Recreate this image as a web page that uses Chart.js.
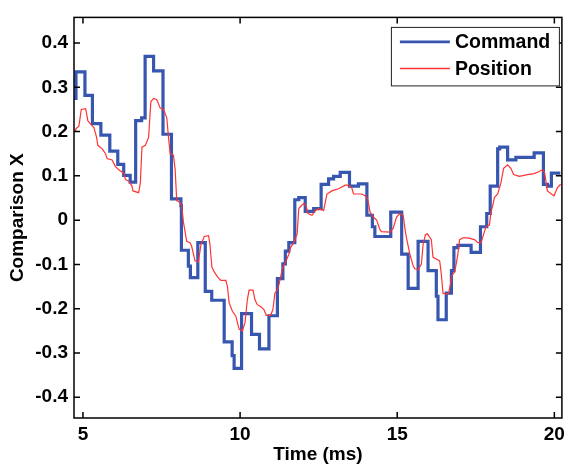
<!DOCTYPE html>
<html>
<head>
<meta charset="utf-8">
<script src="https://cdn.jsdelivr.net/npm/chart.js@4/dist/chart.umd.min.js"></script>
<style>
  html, body { margin: 0; padding: 0; background: #fff; }
  canvas { display: block; }
</style>
</head>
<body>
<canvas id="mainChart" width="570" height="468"></canvas>
<script>
let seriesNames = ['Command', 'Position'];
let seriesColors = ['#3656b0', '#ff3333'];

// Command is a staircase: each value starts at the given time
let commandTime = [4.715, 4.778, 5.063, 5.301, 5.570, 5.854, 6.108, 6.297, 6.503, 6.677,
    6.867, 6.978, 7.247, 7.547, 7.816, 8.117, 8.133, 8.354, 8.418, 8.655,
    8.892, 9.098, 9.494, 9.747, 9.810, 10.047, 10.364, 10.617, 10.918, 11.187,
    11.361, 11.440, 11.551, 11.741, 11.867, 12.073, 12.342, 12.579, 12.816, 12.975,
    13.187, 13.481, 13.766, 14.035, 14.209, 14.288, 14.794, 15.142, 15.348, 15.665,
    15.981, 16.244, 16.297, 16.560, 16.725, 16.804, 16.930, 17.351, 17.649, 17.848,
    17.959, 18.196, 18.259, 18.513, 18.775, 19.358, 19.652, 19.778, 19.905, 20.19];
let commandValue = [0.275, 0.335, 0.282, 0.218, 0.192, 0.156, 0.126, 0.101, 0.086, 0.225,
    0.231, 0.370, 0.337, 0.194, 0.048, 0.033, -0.068, -0.104, -0.130, -0.051,
    -0.161, -0.181, -0.275, -0.306, -0.335, -0.211, -0.258, -0.291, -0.216, -0.132,
    -0.099, -0.070, -0.051, 0.046, 0.051, 0.020, 0.026, 0.081, 0.093, 0.099,
    0.108, 0.077, 0.082, 0.011, -0.015, -0.037, 0.018, -0.077, -0.154, -0.048,
    -0.114, -0.172, -0.225, -0.165, -0.114, -0.062, -0.057, -0.073, -0.015, 0.015,
    0.077, 0.161, 0.165, 0.136, 0.142, 0.152, 0.081, 0.077, 0.106, 0.106];

let positionTime = [4.747, 4.769, 4.873, 4.946, 5.085, 5.158, 5.244, 5.348, 5.434, 5.475,
    5.611, 5.718, 5.769, 5.927, 6.035, 6.139, 6.297, 6.351, 6.456, 6.560,
    6.592, 6.772, 6.826, 6.877, 6.984, 7.089, 7.161, 7.247, 7.351, 7.459,
    7.563, 7.668, 7.722, 7.775, 7.880, 7.934, 7.984, 8.092, 8.142, 8.196,
    8.301, 8.408, 8.459, 8.566, 8.671, 8.756, 8.861, 8.997, 9.041, 9.104,
    9.177, 9.282, 9.389, 9.547, 9.598, 9.652, 9.756, 9.864, 9.968, 10.073,
    10.158, 10.231, 10.285, 10.411, 10.475, 10.547, 10.655, 10.759, 10.832, 10.972,
    11.044, 11.108, 11.180, 11.234, 11.288, 11.361, 11.446, 11.551, 11.604, 11.709,
    11.763, 11.813, 11.867, 11.953, 12.025, 12.098, 12.161, 12.288, 12.396, 12.500,
    12.658, 12.763, 12.921, 13.133, 13.345, 13.449, 13.554, 13.608, 13.870, 13.978,
    14.060, 14.136, 14.241, 14.345, 14.453, 14.503, 14.769, 14.873, 14.978, 15.085,
    15.190, 15.244, 15.294, 15.402, 15.506, 15.560, 15.665, 15.769, 15.823, 15.896,
    15.959, 16.085, 16.139, 16.244, 16.351, 16.402, 16.456, 16.560, 16.636, 16.699,
    16.741, 16.826, 16.877, 16.930, 16.984, 17.089, 17.247, 17.459, 17.563, 17.668,
    17.775, 17.826, 17.934, 17.984, 18.038, 18.092, 18.196, 18.300, 18.386, 18.513,
    18.617, 18.703, 18.883, 19.146, 19.358, 19.516, 19.620, 19.693, 19.778, 19.905,
    19.991, 20.095, 20.199];
let positionValue = [0.202, 0.206, 0.213, 0.250, 0.252, 0.224, 0.217, 0.209, 0.187, 0.169,
    0.161, 0.150, 0.139, 0.136, 0.121, 0.114, 0.106, 0.092, 0.088, 0.077,
    0.066, 0.062, 0.084, 0.165, 0.169, 0.187, 0.268, 0.275, 0.272, 0.253,
    0.250, 0.231, 0.187, 0.150, 0.147, 0.114, 0.044, 0.040, 0.033, -0.004,
    -0.048, -0.051, -0.059, -0.092, -0.095, -0.055, -0.037, -0.035, -0.055, -0.106,
    -0.117, -0.128, -0.136, -0.136, -0.150, -0.187, -0.206, -0.217, -0.246, -0.250,
    -0.231, -0.180, -0.158, -0.158, -0.180, -0.191, -0.195, -0.202, -0.215, -0.215,
    -0.202, -0.165, -0.158, -0.147, -0.128, -0.106, -0.095, -0.077, -0.062, -0.051,
    -0.040, -0.033, 0.026, 0.033, 0.037, 0.033, 0.015, 0.011, 0.022, 0.026,
    0.022, 0.059, 0.066, 0.071, 0.079, 0.079, 0.073, 0.059, 0.059, 0.055,
    0.048, 0.018, 0.007, 0.000, -0.022, -0.026, -0.027, -0.018, 0.007, 0.015,
    0.011, -0.018, -0.040, -0.077, -0.103, -0.110, -0.112, -0.099, -0.055, -0.033,
    -0.031, -0.044, -0.084, -0.088, -0.092, -0.121, -0.165, -0.167, -0.165, -0.143,
    -0.125, -0.117, -0.099, -0.077, -0.044, -0.040, -0.040, -0.044, -0.051, -0.051,
    -0.026, -0.015, -0.011, 0.018, 0.033, 0.051, 0.059, 0.084, 0.117, 0.125,
    0.117, 0.103, 0.099, 0.103, 0.105, 0.110, 0.114, 0.106, 0.066, 0.059,
    0.055, 0.073, 0.081];

let xTicks = [5, 10, 15, 20];
let yTicks = [-0.4, -0.3, -0.2, -0.1, 0, 0.1, 0.2, 0.3, 0.4];
let xRange = [4.715, 20.24];
let yRange = [-0.447, 0.458];

let fontFamily = "'Liberation Sans', Arial, sans-serif";
let labelFont = { family: fontFamily, size: 19, weight: 'bold' };

function toPoints(times, values) {
    return times.map((t, i) => ({ x: t, y: values[i] }));
}

// frame, inward ticks and the boxed legend
let boxPlugin = {
    id: 'box',
    afterDraw(chart) {
        let ctx = chart.ctx;
        let a = chart.chartArea;
        let sx = chart.scales.x, sy = chart.scales.y;
        ctx.save();
        ctx.strokeStyle = '#000';
        ctx.lineWidth = 1.5;
        ctx.strokeRect(a.left, a.top, a.right - a.left, a.bottom - a.top);
        ctx.beginPath();
        xTicks.forEach(t => {
            let px = sx.getPixelForValue(t);
            ctx.moveTo(px, a.bottom); ctx.lineTo(px, a.bottom - 6);
            ctx.moveTo(px, a.top); ctx.lineTo(px, a.top + 6);
        });
        yTicks.forEach(t => {
            let py = sy.getPixelForValue(t);
            ctx.moveTo(a.left, py); ctx.lineTo(a.left + 6, py);
            ctx.moveTo(a.right, py); ctx.lineTo(a.right - 6, py);
        });
        ctx.stroke();

        let bx = a.right - 171, by = a.top + 9.5, bw = 168, bh = 58.5;
        ctx.fillStyle = '#fff';
        ctx.fillRect(bx, by, bw, bh);
        ctx.lineWidth = 1;
        ctx.strokeStyle = '#222';
        ctx.strokeRect(bx + 0.5, by + 0.5, bw, bh);
        ctx.font = 'bold 19.5px ' + fontFamily;
        ctx.textBaseline = 'middle';
        ctx.textAlign = 'left';
        chart.data.datasets.forEach((ds, i) => {
            let ly = by + 15 + i * 26.6;
            ctx.strokeStyle = ds.borderColor;
            ctx.lineWidth = i === 0 ? 2.6 : 1.4;
            ctx.beginPath();
            ctx.moveTo(bx + 9, ly); ctx.lineTo(bx + 59, ly);
            ctx.stroke();
            ctx.fillStyle = '#000';
            ctx.fillText(ds.label, bx + 64, ly + 1);
        });
        ctx.restore();
    }
};

let mainChartConfig = {
    type: 'line',
    data: {
        datasets: [{
            label: seriesNames[0],
            data: toPoints(commandTime, commandValue),
            borderColor: seriesColors[0],
            borderWidth: 3.2,
            stepped: true,
            pointRadius: 0,
            fill: false,
            order: 1
        }, {
            label: seriesNames[1],
            data: toPoints(positionTime, positionValue),
            borderColor: seriesColors[1],
            borderWidth: 1.2,
            tension: 0,
            pointRadius: 0,
            fill: false,
            order: 0
        }]
    },
    options: {
        responsive: false,
        animation: false,
        devicePixelRatio: 1,
        layout: { padding: { top: 7, right: 5, left: 0, bottom: 0 } },
        plugins: {
            legend: { display: false },
            tooltip: { enabled: false }
        },
        scales: {
            x: {
                type: 'linear',
                min: xRange[0],
                max: xRange[1],
                grid: { display: false, drawTicks: false },
                border: { display: false },
                afterBuildTicks: s => { s.ticks = xTicks.map(v => ({ value: v })); },
                afterFit: s => { s.height = 50; },
                ticks: {
                    font: labelFont, color: '#000', padding: 5,
                    maxRotation: 0, autoSkip: false,
                    callback: v => String(v)
                },
                title: {
                    display: true, text: 'Time (ms)', font: labelFont, color: '#000',
                    padding: { top: 0, bottom: 2 }
                }
            },
            y: {
                type: 'linear',
                min: yRange[0],
                max: yRange[1],
                grid: { display: false, drawTicks: false },
                border: { display: false },
                afterBuildTicks: s => { s.ticks = yTicks.map(v => ({ value: v })); },
                afterFit: s => { s.width = 74; },
                ticks: {
                    font: labelFont, color: '#000', padding: 6, autoSkip: false,
                    callback: v => String(Math.round(v * 10) / 10)
                },
                title: {
                    display: true, text: 'Comparison X', font: labelFont, color: '#000',
                    padding: { top: 6, bottom: 0 }
                }
            }
        }
    },
    plugins: [boxPlugin]
};

window.onload = function() {
    let ctx = document.getElementById('mainChart').getContext('2d');
    window.myLine = new Chart(ctx, mainChartConfig);
};
</script>
</body>
</html>
